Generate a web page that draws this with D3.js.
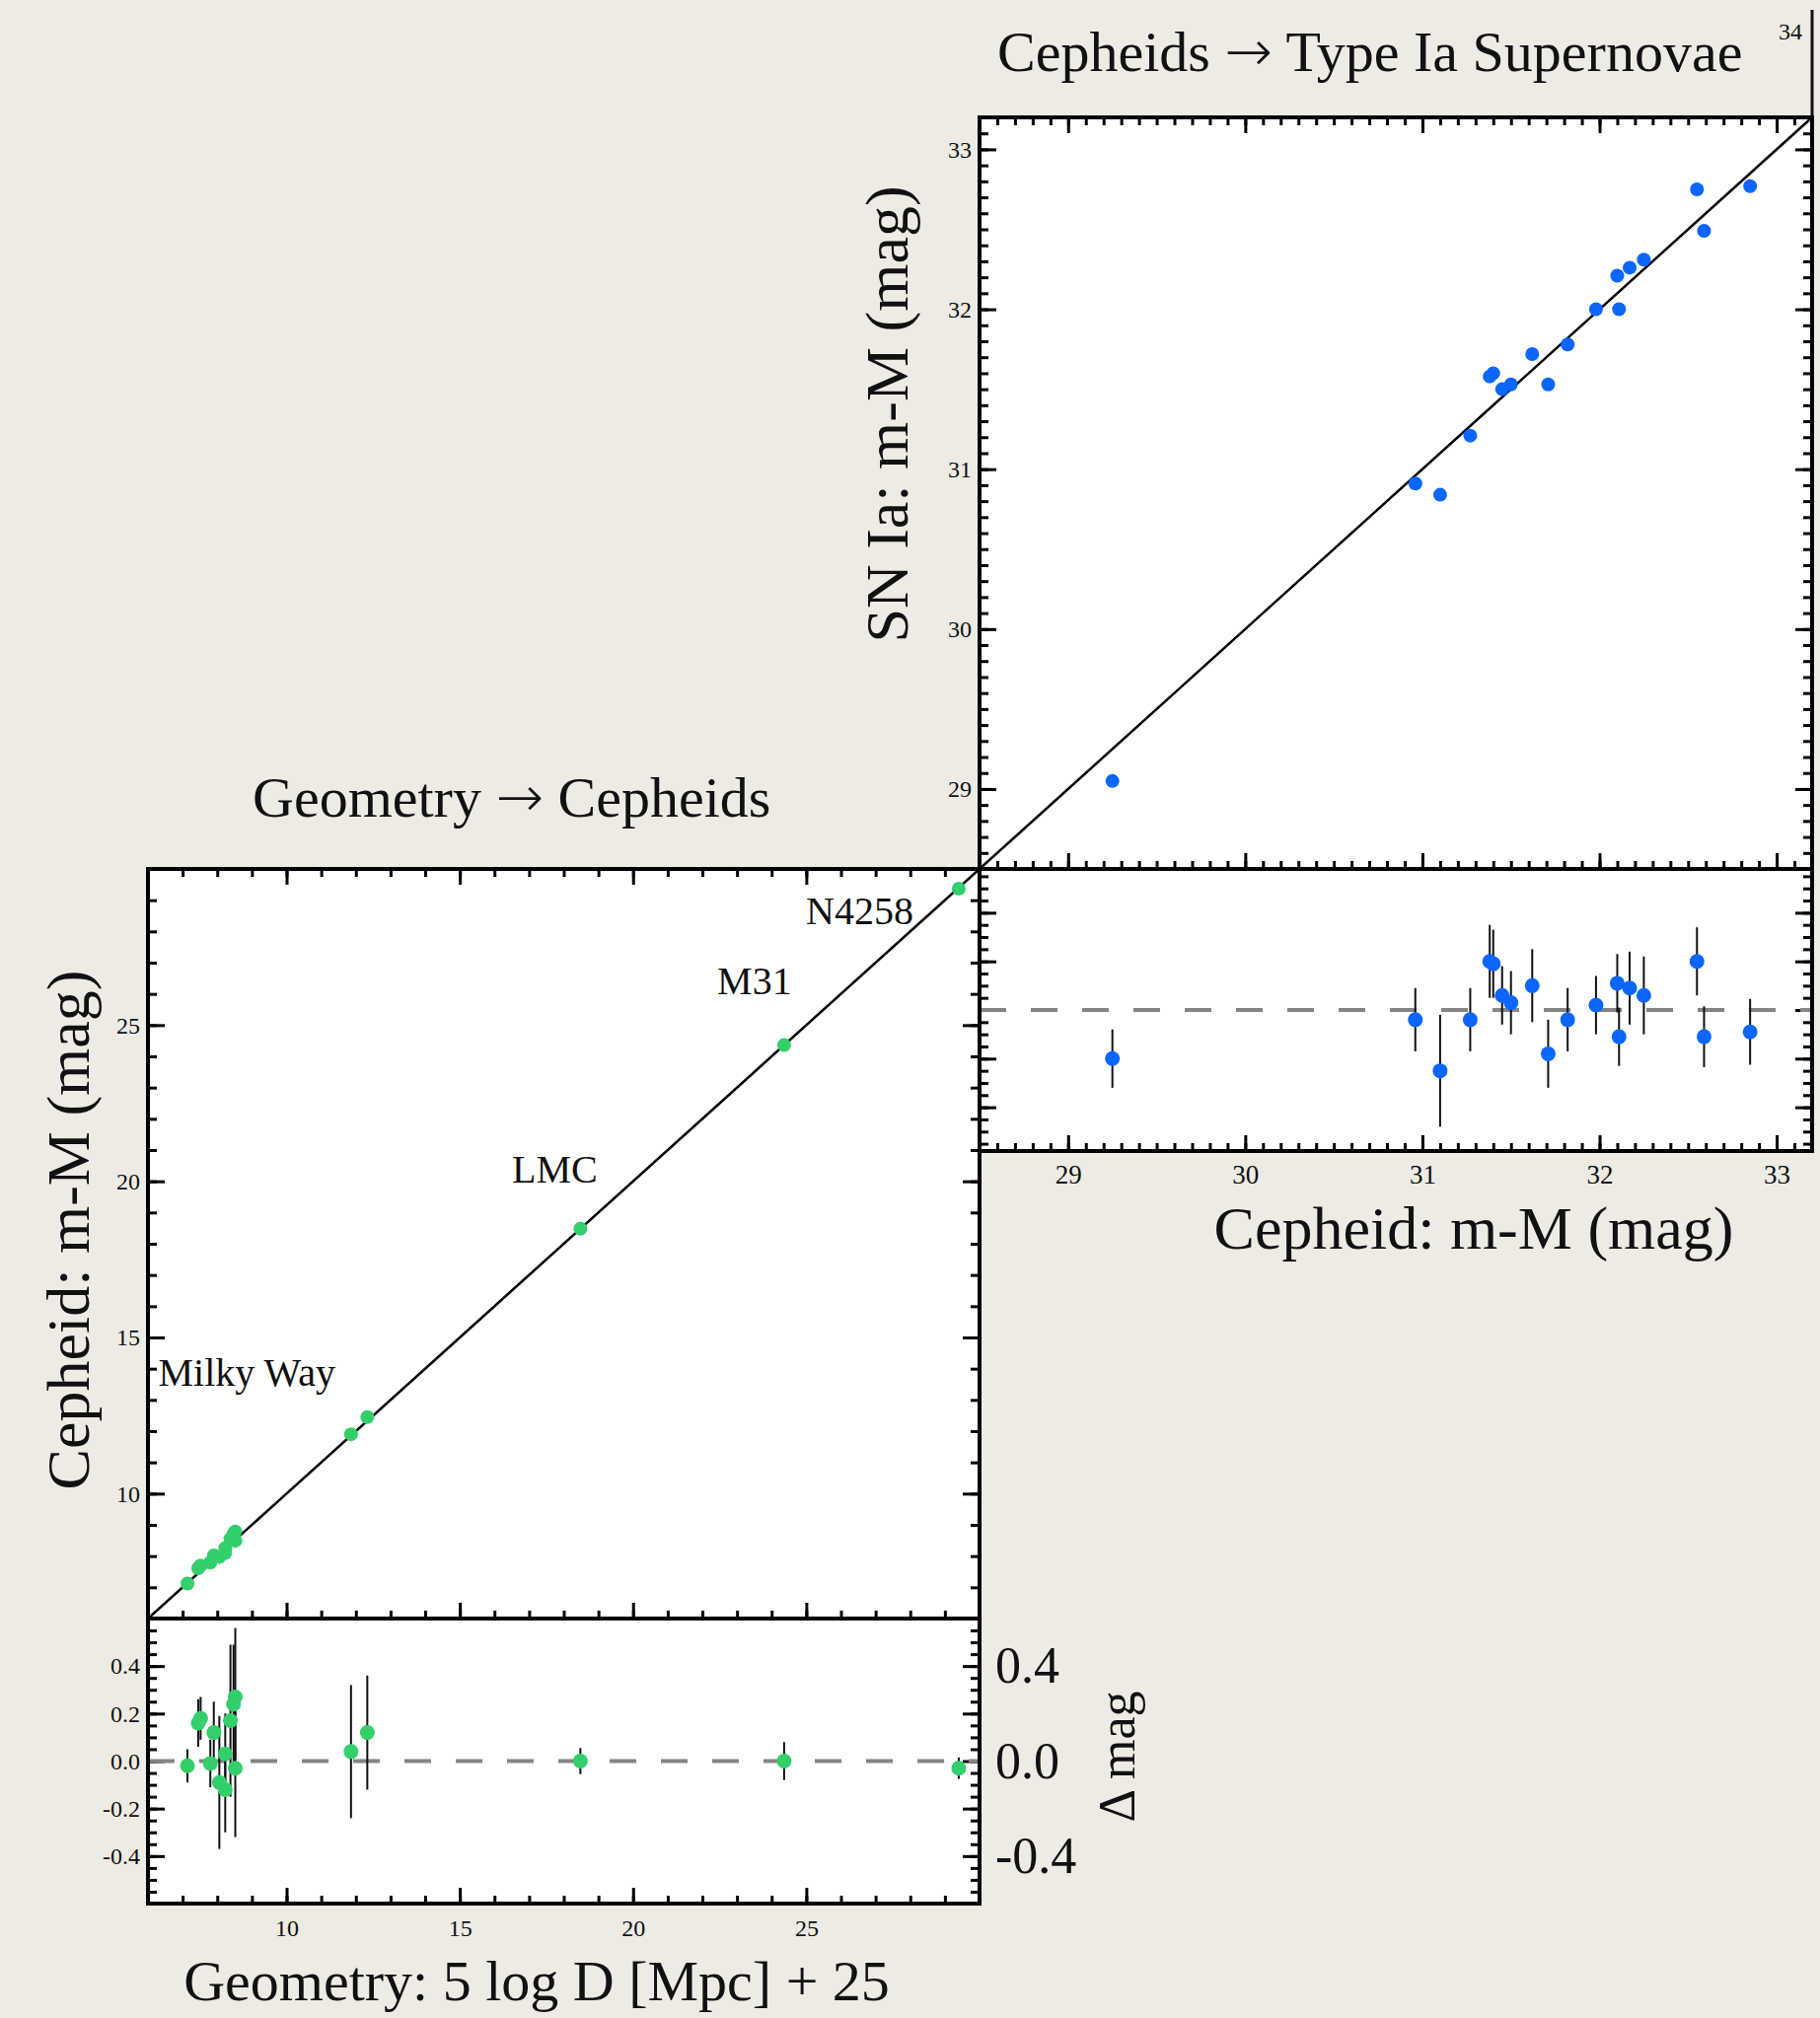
<!DOCTYPE html>
<html>
<head>
<meta charset="utf-8">
<script src="https://cdn.jsdelivr.net/npm/d3@7"></script>
<style>
  html, body { margin: 0; padding: 0; background: #eeebe5; }
  svg text { font-family: "Liberation Serif", "Times New Roman", serif; fill: #111; }
</style>
</head>
<body>
<div id="chart"></div>
<script>
// Cepheids -> SN Ia (top right panel)
const snCephMod = [29.25, 30.96, 31.10, 31.27, 31.38, 31.40, 31.45, 31.50, 31.62, 31.71, 31.82, 31.98, 32.11, 32.10, 32.17, 32.25, 32.55, 32.59, 32.85];
const snMod     = [29.05, 30.91, 30.84, 31.21, 31.58, 31.60, 31.50, 31.53, 31.72, 31.53, 31.78, 32.00, 32.00, 32.21, 32.26, 32.31, 32.75, 32.49, 32.77];
const snResid   = [-0.20, -0.04, -0.25, -0.04, 0.20, 0.19, 0.06, 0.03, 0.10, -0.18, -0.04, 0.02, -0.11, 0.11, 0.09, 0.06, 0.20, -0.11, -0.09];
const snErr     = [0.12, 0.13, 0.23, 0.13, 0.15, 0.14, 0.12, 0.13, 0.15, 0.14, 0.13, 0.12, 0.12, 0.12, 0.15, 0.16, 0.14, 0.125, 0.135];

// Geometry -> Cepheids (bottom left panel)
const geoMod    = [7.14, 7.45, 7.52, 7.80, 7.90, 8.06, 8.23, 8.23, 8.38, 8.47, 8.52, 8.52, 11.86, 12.33, 18.48, 24.36, 29.40];
const cephMod   = [7.12, 7.61, 7.70, 7.79, 8.02, 7.97, 8.10, 8.26, 8.55, 8.71, 8.79, 8.49, 11.90, 12.45, 18.48, 24.36, 29.37];
const cephResid = [-0.02, 0.16, 0.18, -0.01, 0.12, -0.09, -0.12, 0.03, 0.17, 0.24, 0.27, -0.03, 0.04, 0.12, 0.00, 0.00, -0.03];
const cephErr   = [0.07, 0.10, 0.09, 0.10, 0.13, 0.28, 0.18, 0.17, 0.32, 0.25, 0.29, 0.29, 0.28, 0.24, 0.055, 0.08, 0.045];

const galaxyNames = ["N4258", "M31", "LMC", "Milky Way"];
const galaxyAt = [[29.40, 29.37], [24.36, 24.36], [18.48, 18.48], [6.3, 13.45]];

const ticksMain1 = [29, 30, 31, 32, 33];
const ticksMain2 = [10, 15, 20, 25];
const ticksResid = [-0.4, -0.2, 0.0, 0.2, 0.4];
const ticksResidBig = [-0.4, 0.0, 0.4];

const W = 1845, H = 2046;
const blue = "#0a66ff", green = "#33cf6a";
const font = "'Liberation Serif', 'Times New Roman', serif";

const svg = d3.select("#chart").append("svg")
    .attr("width", W).attr("height", H);

// scales
const xTR = d3.scaleLinear().domain([28.5, 33.2]).range([993, 1837]);
const yTR = d3.scaleLinear().domain([28.5, 33.2]).range([881, 119]);
const rTR = d3.scaleLinear().domain([-0.58, 0.58]).range([1167, 881]);

const xBL = d3.scaleLinear().domain([6, 30]).range([150, 993]);
const yBL = d3.scaleLinear().domain([6, 30]).range([1641, 881]);
const rBL = d3.scaleLinear().domain([-0.6, 0.6]).range([1930, 1641]);

const seq = (a, b, s) => d3.range(Math.round(a / s), Math.round(b / s) + 1).map(i => +(i * s).toFixed(3));

// white plot areas
function panel(x, y) {
  svg.append("rect")
      .attr("x", x.range()[0]).attr("y", y.range()[1])
      .attr("width", x.range()[1] - x.range()[0])
      .attr("height", y.range()[0] - y.range()[1])
      .attr("fill", "#fff");
}
panel(xTR, yTR); panel(xTR, rTR); panel(xBL, yBL); panel(xBL, rBL);

// inward ticks on all four sides, drawn by d3 axes
function ticks(x, y, xMinor, xMajor, yMinor, yMajor, sides) {
  const x0 = x.range()[0], x1 = x.range()[1], yt = y.range()[1], yb = y.range()[0];
  const put = (axis, tx, ty) => {
    const g = svg.append("g").attr("transform", `translate(${tx},${ty})`)
        .call(axis.tickFormat("").tickSizeOuter(0));
    g.select(".domain").remove();
    g.selectAll("line").attr("stroke", "#000").attr("stroke-width", 3);
  };
  if (sides.includes("t")) {
    put(d3.axisTop(x).tickValues(xMinor).tickSizeInner(-8), 0, yt);
    put(d3.axisTop(x).tickValues(xMajor).tickSizeInner(-16), 0, yt);
  }
  if (sides.includes("b")) {
    put(d3.axisBottom(x).tickValues(xMinor).tickSizeInner(-8), 0, yb);
    put(d3.axisBottom(x).tickValues(xMajor).tickSizeInner(-16), 0, yb);
  }
  if (sides.includes("l")) {
    put(d3.axisLeft(y).tickValues(yMinor).tickSizeInner(-9), x0, 0);
    put(d3.axisLeft(y).tickValues(yMajor).tickSizeInner(-17), x0, 0);
  }
  if (sides.includes("r")) {
    put(d3.axisRight(y).tickValues(yMinor).tickSizeInner(-9), x1, 0);
    put(d3.axisRight(y).tickValues(yMajor).tickSizeInner(-17), x1, 0);
  }
}

const trMinor = seq(28.6, 33.2, 0.1), trMajor = ticksMain1;
const blMinor = seq(7, 29, 1), blMajor = ticksMain2;
const rTRMinor = seq(-0.55, 0.55, 0.05), rBLMinor = seq(-0.55, 0.55, 0.05);

ticks(xTR, yTR, trMinor, trMajor, trMinor, trMajor, "tblr");
ticks(xTR, rTR, trMinor, trMajor, rTRMinor, ticksResid, "blr");
ticks(xBL, yBL, blMinor, blMajor, blMinor, blMajor, "tblr");
ticks(xBL, rBL, blMinor, blMajor, rBLMinor, ticksResid, "blr");

// zero lines in residual panels
function zeroLine(x, r) {
  svg.append("line")
      .attr("x1", x.range()[0]).attr("x2", x.range()[1])
      .attr("y1", r(0)).attr("y2", r(0))
      .attr("stroke", "#858585").attr("stroke-width", 4)
      .attr("stroke-dasharray", "27,25");
}
zeroLine(xTR, rTR);
zeroLine(xBL, rBL);

// one-to-one lines
function diag(x, y) {
  const d = x.domain();
  svg.append("line")
      .attr("x1", x(d[0])).attr("y1", y(d[0]))
      .attr("x2", x(d[1])).attr("y2", y(d[1]))
      .attr("stroke", "#000").attr("stroke-width", 2.5);
}
diag(xTR, yTR);
diag(xBL, yBL);

// error bars + points
function errBars(xs, rs, es, x, r) {
  svg.append("g").selectAll("line").data(xs).join("line")
      .attr("x1", d => x(d)).attr("x2", d => x(d))
      .attr("y1", (d, i) => r(rs[i] + es[i]))
      .attr("y2", (d, i) => r(rs[i] - es[i]))
      .attr("stroke", "#111").attr("stroke-width", 2);
}
function dots(xs, ys, x, y, col, rad) {
  svg.append("g").selectAll("circle").data(xs).join("circle")
      .attr("cx", d => x(d)).attr("cy", (d, i) => y(ys[i]))
      .attr("r", rad).attr("fill", col);
}
errBars(snCephMod, snResid, snErr, xTR, rTR);
dots(snCephMod, snMod, xTR, yTR, blue, 7);
dots(snCephMod, snResid, xTR, rTR, blue, 7.5);

errBars(geoMod, cephResid, cephErr, xBL, rBL);
dots(geoMod, cephMod, xBL, yBL, green, 7);
dots(geoMod, cephResid, xBL, rBL, green, 7.5);

// frames
function frame(x, y) {
  svg.append("rect")
      .attr("x", x.range()[0]).attr("y", y.range()[1])
      .attr("width", x.range()[1] - x.range()[0])
      .attr("height", y.range()[0] - y.range()[1])
      .attr("fill", "none").attr("stroke", "#000").attr("stroke-width", 4);
}
frame(xTR, yTR); frame(xTR, rTR); frame(xBL, yBL); frame(xBL, rBL);

// slide edge line above top right panel
svg.append("line")
    .attr("x1", xTR.range()[1]).attr("x2", xTR.range()[1])
    .attr("y1", 10).attr("y2", yTR.range()[1])
    .attr("stroke", "#111").attr("stroke-width", 3);

// tick labels
function labels(axis, tx, ty, size) {
  const g = svg.append("g").attr("transform", `translate(${tx},${ty})`).call(axis);
  g.select(".domain").remove();
  g.selectAll("line").remove();
  g.selectAll("text").attr("font-family", font).attr("font-size", size).attr("fill", "#222");
  return g;
}
const fmt1 = d => d.toFixed(1);

labels(d3.axisLeft(yTR).tickValues(ticksMain1).tickSize(0).tickPadding(8).tickFormat(d3.format("d")), xTR.range()[0], 0, 24);
labels(d3.axisBottom(xTR).tickValues(ticksMain1).tickSize(0).tickPadding(14).tickFormat(d3.format("d")), 0, rTR.range()[0], 27);

labels(d3.axisLeft(yBL).tickValues(ticksMain2).tickSize(0).tickPadding(8).tickFormat(d3.format("d")), xBL.range()[0], 0, 24);
labels(d3.axisLeft(rBL).tickValues(ticksResid).tickSize(0).tickPadding(8).tickFormat(fmt1), xBL.range()[0], 0, 24);
labels(d3.axisBottom(xBL).tickValues(ticksMain2).tickSize(0).tickPadding(16).tickFormat(d3.format("d")), 0, rBL.range()[0], 24);
labels(d3.axisRight(rBL).tickValues(ticksResidBig).tickSize(0).tickPadding(16).tickFormat(fmt1), xBL.range()[1], 0, 52);

// titles and axis titles
function txt(s, x, y, size, anchor, rot) {
  const t = svg.append("text").text(s)
      .attr("font-family", font).attr("font-size", size)
      .attr("text-anchor", anchor || "start").attr("fill", "#111");
  if (rot) t.attr("transform", `translate(${x},${y}) rotate(${rot})`);
  else t.attr("x", x).attr("y", y);
  return t;
}
// titles with a longer, thin arrow glyph
function arrowTitle(a, b, x, y, size) {
  const t = svg.append("text").attr("x", x).attr("y", y)
      .attr("font-family", font).attr("font-size", size).attr("fill", "#111");
  t.append("tspan").text(a + " ");
  t.append("tspan").text("\u2192")
      .attr("font-family", "'DejaVu Sans ExtraLight', 'DejaVu Sans Light', 'DejaVu Sans', sans-serif")
      .attr("font-weight", 200)
      .attr("font-size", size);
  t.append("tspan").text(" " + b);
}
arrowTitle("Cepheids", "Type Ia Supernovae", 1011, 72, 58);
arrowTitle("Geometry", "Cepheids", 256, 828, 58);
txt("34", 1815, 40, 24, "middle");

txt("SN Ia: m-M (mag)", 920, 420, 62, "middle", -90);
txt("Cepheid: m-M (mag)", 1494, 1266, 62, "middle");
txt("Cepheid: m-M (mag)", 90, 1247, 62, "middle", -90);
txt("Geometry: 5 log D [Mpc] + 25", 544, 2028, 58, "middle");
txt("\u0394 mag", 1150, 1781, 52, "middle", -90);

// galaxy labels
const labelShift = [[-46, 36, "end"], [-30, -52, "middle"], [-26, -47, "middle"], [0, 0, "start"]];
galaxyNames.forEach((n, i) => {
  const p = galaxyAt[i], s = labelShift[i];
  txt(n, xBL(p[0]) + s[0], yBL(p[1]) + s[1], 40, s[2]);
});
</script>
</body>
</html>
